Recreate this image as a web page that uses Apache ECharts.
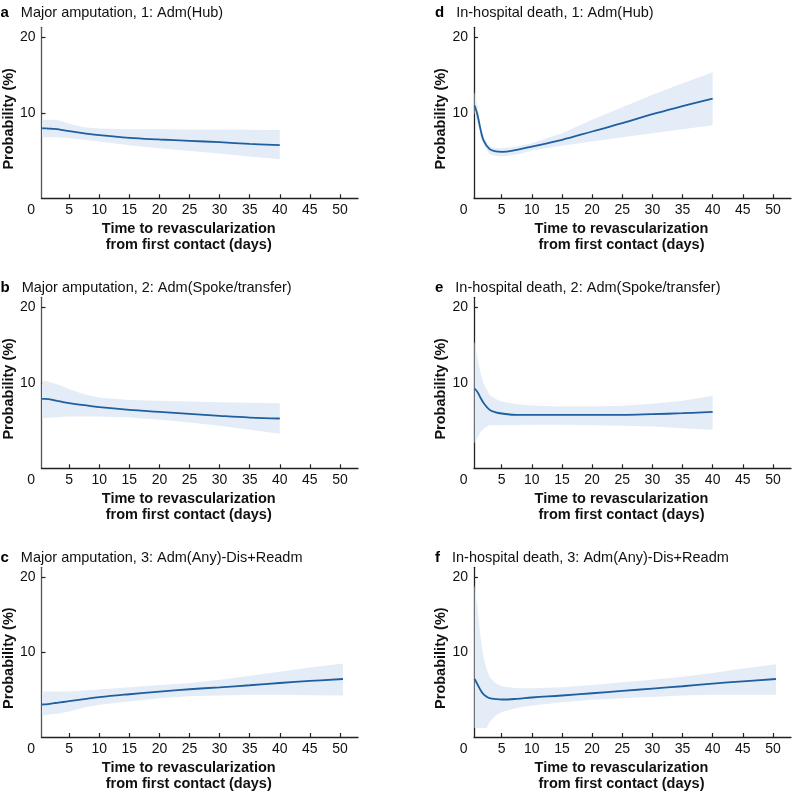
<!DOCTYPE html>
<html><head><meta charset="utf-8">
<script src="https://cdn.jsdelivr.net/npm/echarts@6/dist/echarts.min.js"></script>
<style>html,body{margin:0;padding:0;background:#fff}#c{width:792px;height:793px}</style>
</head><body><div id="c"></div>
<script>
// ---------------- data ----------------
const daysShort = [0.5, 1, 1.5, 2, 3, 4, 5, 7.5, 10, 15, 20, 25, 30, 35, 40];
const daysLong = [0.5, 1, 1.5, 2, 2.5, 3, 4, 5, 7.5, 10, 15, 20, 25, 30, 35, 40, 45, 50.5];
const xTickValues = [5, 10, 15, 20, 25, 30, 35, 40, 45, 50];
const yTickValues = [10, 20];
const panelLetters = ['a', 'b', 'c', 'd', 'e', 'f'];
const panelTitles = [
  'Major amputation, 1: Adm(Hub)',
  'Major amputation, 2: Adm(Spoke/transfer)',
  'Major amputation, 3: Adm(Any)-Dis+Readm',
  'In-hospital death, 1: Adm(Hub)',
  'In-hospital death, 2: Adm(Spoke/transfer)',
  'In-hospital death, 3: Adm(Any)-Dis+Readm'
];
const xAxisName = 'Time to revascularization\nfrom first contact (days)';
const yAxisName = 'Probability (%)';

// a: Major amputation, Hub
const aFit   = [8.03, 8.0, 7.98, 7.95, 7.9, 7.77, 7.63, 7.35, 7.1, 6.75, 6.54, 6.36, 6.18, 5.96, 5.79];
const aUpper = [9.12, 9.12, 9.12, 9.12, 9.1, 8.9, 8.6, 8.16, 7.98, 7.9, 7.88, 7.86, 7.85, 7.83, 7.8];
const aLower = [6.84, 6.84, 6.84, 6.84, 6.84, 6.78, 6.7, 6.5, 6.27, 5.79, 5.4, 5.04, 4.69, 4.3, 3.95];
// b: Major amputation, Spoke/transfer
const bFit   = [7.94, 7.93, 7.9, 7.85, 7.68, 7.52, 7.37, 7.1, 6.84, 6.49, 6.23, 5.96, 5.7, 5.48, 5.35];
const bUpper = [10.35, 10.3, 10.22, 10.1, 9.87, 9.55, 9.21, 8.55, 8.11, 7.8, 7.7, 7.6, 7.5, 7.42, 7.37];
const bLower = [5.39, 5.42, 5.45, 5.48, 5.52, 5.57, 5.61, 5.61, 5.61, 5.48, 5.18, 4.82, 4.39, 3.86, 3.33];
// c: Major amputation, Any-Dis+Readm
const cFit   = [3.11, 3.13, 3.17, 3.22, 3.28, 3.33, 3.44, 3.55, 3.82, 4.08, 4.47, 4.82, 5.13, 5.39, 5.66, 5.96, 6.23, 6.49];
const cUpper = [4.82, 4.82, 4.82, 4.82, 4.82, 4.82, 4.82, 4.82, 4.95, 5.09, 5.39, 5.7, 5.96, 6.4, 6.93, 7.46, 8.03, 8.55];
const cLower = [1.67, 1.7, 1.75, 1.8, 1.85, 1.89, 2.03, 2.19, 2.7, 3.07, 3.51, 3.95, 4.21, 4.3, 4.39, 4.39, 4.34, 4.3];
// d: In-hospital death, Hub
const dFit   = [11.0, 9.7, 7.8, 6.4, 5.26, 4.97, 4.91, 5.18, 5.61, 6.49, 7.59, 8.68, 9.87, 10.92, 11.93];
const dUpper = [12.8, 10.8, 8.3, 6.85, 5.6, 5.42, 5.4, 5.6, 6.05, 7.37, 9.12, 10.79, 12.41, 13.95, 15.39];
const dLower = [10.0, 8.8, 7.0, 5.8, 4.6, 4.35, 4.3, 4.52, 5.09, 5.7, 6.27, 6.84, 7.37, 7.9, 8.42];
// e: In-hospital death, Spoke/transfer
const eFit   = [9.3, 8.8, 8.05, 7.4, 6.49, 6.16, 6.01, 5.83, 5.83, 5.83, 5.83, 5.83, 5.92, 6.05, 6.23];
const eUpper = [15.5, 13.2, 11.3, 9.9, 8.46, 7.92, 7.59, 7.24, 7.06, 6.93, 6.93, 7.02, 7.28, 7.68, 8.33];
const eLower = [2.1, 2.9, 3.55, 4.05, 4.47, 4.47, 4.47, 4.5, 4.52, 4.52, 4.48, 4.39, 4.3, 4.08, 3.86];
// f: In-hospital death, Any-Dis+Readm
const fFit   = [6.5, 5.75, 5.0, 4.45, 4.15, 3.95, 3.83, 3.77, 3.86, 4.04, 4.3, 4.6, 4.91, 5.22, 5.53, 5.88, 6.18, 6.49];
const fUpper = [19.0, 15.8, 12.0, 9.3, 7.8, 6.71, 5.9, 5.53, 5.26, 5.26, 5.39, 5.7, 6.05, 6.4, 6.8, 7.28, 7.89, 8.46];
const fLower = [0, 0, 0, 0, 0, 0.79, 1.65, 2.1, 2.63, 2.98, 3.42, 3.73, 3.95, 4.12, 4.3, 4.39, 4.39, 4.39];

const panels = [
  { days: daysShort, fit: aFit, upper: aUpper, lower: aLower },
  { days: daysShort, fit: bFit, upper: bUpper, lower: bLower },
  { days: daysLong,  fit: cFit, upper: cUpper, lower: cLower },
  { days: daysShort, fit: dFit, upper: dUpper, lower: dLower },
  { days: daysShort, fit: eFit, upper: eUpper, lower: eLower },
  { days: daysLong,  fit: fFit, upper: fUpper, lower: fLower }
];

// ---------------- layout / style ----------------
const FONT = '"Liberation Sans", Arial, Helvetica, sans-serif';
const LINE_COLOR = '#1f5f9f';
const BAND_COLOR = '#e4edf7';
const colLeft = [41, 474];
const rowTop = [27.3, 297.3, 567.3];
const gridW = 317, gridH = 171;
const titleY = [12, 287.5, 557];
const X_MIN = 0.4, X_MAX = 53, Y_MIN = -1.2, Y_MAX = 21.3;

function bandRenderer(p) {
  return function (params, api) {
    if (params.dataIndex !== 0) return null;
    const top = p.days.map((d, k) => api.coord([d, p.upper[k]]));
    const bottom = p.days.map((d, k) => api.coord([d, p.lower[k]])).reverse();
    return {
      type: 'polygon',
      shape: { points: top.concat(bottom) },
      style: { fill: BAND_COLOR, stroke: null },
      silent: true
    };
  };
}

const grids = [], xAxes = [], yAxes = [], series = [], graphics = [];
panels.forEach((p, i) => {
  const col = i < 3 ? 0 : 1;
  const row = i % 3;
  grids.push({ left: colLeft[col], top: rowTop[row], width: gridW, height: gridH, containLabel: false });
  xAxes.push({
    type: 'value', gridIndex: i, min: X_MIN, max: X_MAX,
    name: xAxisName, nameLocation: 'middle', nameGap: 23,
    nameTextStyle: { fontFamily: FONT, fontSize: 14.5, fontWeight: 'bold', color: '#111', lineHeight: 16, padding: [0, 22, 0, 0] },
    axisLine: { show: true, onZero: false, lineStyle: { color: '#222', width: 1.3 } },
    axisTick: { show: true, inside: true, length: 4, customValues: xTickValues, lineStyle: { color: '#222', width: 1.2 } },
    axisLabel: { show: true, margin: 5, customValues: xTickValues, fontFamily: FONT, fontSize: 14, color: '#111' },
    splitLine: { show: false }
  });
  yAxes.push({
    type: 'value', gridIndex: i, min: Y_MIN, max: Y_MAX,
    name: yAxisName, nameLocation: 'middle', nameGap: col === 0 ? 24 : 26, nameRotate: 90,
    nameTextStyle: { fontFamily: FONT, fontSize: 14.5, fontWeight: 'bold', color: '#111', padding: [0, 12, 0, 0] },
    axisLine: { show: true, onZero: false, lineStyle: { color: col === 0 ? '#555' : '#222', width: 1.3 } },
    axisTick: { show: true, inside: true, length: 4, customValues: yTickValues, lineStyle: { color: '#222', width: 1.2 } },
    axisLabel: { show: true, margin: 6, customValues: yTickValues, fontFamily: FONT, fontSize: 14, color: '#111' },
    splitLine: { show: false }
  });
  const bandData = p.days.map((d, k) => [d, p.lower[k], p.upper[k]]);
  const fitData = p.days.map((d, k) => [d, p.fit[k]]);
  series.push({
    type: 'custom', xAxisIndex: i, yAxisIndex: i, data: bandData,
    encode: { x: 0, y: [1, 2] }, renderItem: bandRenderer(p), silent: true, z: 1
  });
  series.push({
    type: 'line', xAxisIndex: i, yAxisIndex: i, data: fitData,
    symbol: 'none', smooth: 0.4, lineStyle: { color: LINE_COLOR, width: 1.8 }, z: 3
  });
  // panel title
  const tx = col === 0 ? 0.5 : 435;
  graphics.push({
    type: 'text', left: tx, top: titleY[row] - 7,
    style: {
      text: '{l|' + panelLetters[i] + '}{t|' + panelTitles[i] + '}',
      rich: {
        l: { fontFamily: FONT, fontSize: 15, fontWeight: 'bold', fill: '#000', padding: [0, 12, 0, 0] },
        t: { fontFamily: FONT, fontSize: 14.5, fill: '#111' }
      }
    }
  });
});

const chart = echarts.init(document.getElementById('c'), null, { renderer: 'canvas' });
chart.setOption({
  animation: false,
  backgroundColor: '#fff',
  grid: grids, xAxis: xAxes, yAxis: yAxes, series: series, graphic: graphics
});

// "0" origin labels at each x axis
const zeroLabels = panels.map((p, i) => {
  const pt = chart.convertToPixel({ xAxisIndex: i, yAxisIndex: i }, [0, Y_MIN]);
  return {
    type: 'text', x: pt[0] - 8, y: pt[1] + 12,
    style: { text: '0', fontFamily: FONT, fontSize: 14, fill: '#111', align: 'center', verticalAlign: 'middle' }
  };
});
chart.setOption({ graphic: graphics.concat(zeroLabels) });
</script></body></html>
